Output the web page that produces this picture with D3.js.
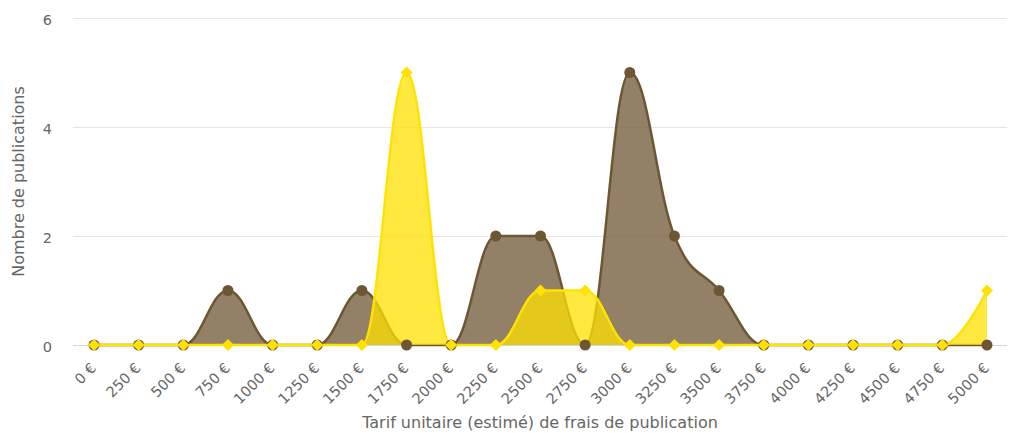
<!DOCTYPE html>
<html><head><meta charset="utf-8">
<script src="https://cdn.jsdelivr.net/npm/d3@7/dist/d3.min.js"></script>
<style>
html,body{margin:0;padding:0;background:#fff;}
svg{display:block;font-family:"DejaVu Sans",sans-serif;}
</style></head><body>
<svg id="chart" width="1009" height="433"></svg>
<script>
const categories = ["0 €","250 €","500 €","750 €","1000 €","1250 €","1500 €","1750 €","2000 €","2250 €","2500 €","2750 €","3000 €","3250 €","3500 €","3750 €","4000 €","4250 €","4500 €","4750 €","5000 €"];
const brownValues  = [0,0,0,1,0,0,1,0,0,2,2,0,5,2,1,0,0,0,0,0,0];
const yellowValues = [0,0,0,0,0,0,0,5,0,0,1,1,0,0,0,0,0,0,0,0,1];
const yTicks = [0,2,4,6];
const xTitle = "Tarif unitaire (estimé) de frais de publication";
const yTitle = "Nombre de publications";

const svg = d3.select("#chart");
const plot = {left:73, right:1007, top:18, bottom:345};

const x = d3.scalePoint().domain(categories).range([94, 987]);
const y = d3.scaleLinear().domain([0,6]).range([plot.bottom, plot.top]);

// gridlines
svg.append("g").selectAll("line").data(yTicks.filter(d=>d>0)).join("line")
  .attr("x1",plot.left).attr("x2",plot.right)
  .attr("y1",d=>y(d)+0.5).attr("y2",d=>y(d)+0.5)
  .attr("stroke","#e6e6e6").attr("stroke-width",1);

// y labels
svg.append("g").selectAll("text").data(yTicks).join("text")
  .attr("x",52).attr("y",d=>y(d)+7)
  .attr("text-anchor","end").attr("fill","#666").attr("font-size",14.5)
  .text(d=>d);

// axis line
svg.append("line").attr("x1",plot.left).attr("x2",plot.right)
  .attr("y1",plot.bottom+0.5).attr("y2",plot.bottom+0.5)
  .attr("stroke","#ccd6eb").attr("stroke-width",1);

// Highcharts-like spline
function splinePath(pts, closeToBase){
  const s = 1.5, den = s+1;
  const rc = [];
  let d = "";
  for(let i=0;i<pts.length;i++){
    const [px,py] = pts[i];
    if(i===0){ d += `M${px},${py}`; rc[i]=[px,py]; continue; }
    let lcx=px, lcy=py;
    if(i<pts.length-1){
      const [lx,ly]=pts[i-1], [nx,ny]=pts[i+1];
      lcx=(s*px+lx)/den; lcy=(s*py+ly)/den;
      let rcx=(s*px+nx)/den, rcy=(s*py+ny)/den;
      let corr=0;
      if(rcx!==lcx) corr=((rcy-lcy)*(rcx-px))/(rcx-lcx)+py-rcy;
      lcy+=corr; rcy+=corr;
      if(lcy>ly&&lcy>py){lcy=Math.max(ly,py);rcy=2*py-lcy;}
      else if(lcy<ly&&lcy<py){lcy=Math.min(ly,py);rcy=2*py-lcy;}
      if(rcy>ny&&rcy>py){rcy=Math.max(ny,py);lcy=2*py-rcy;}
      else if(rcy<ny&&rcy<py){rcy=Math.min(ny,py);lcy=2*py-rcy;}
      rc[i]=[rcx,rcy];
    } else rc[i]=[px,py];
    const [ax,ay]=rc[i-1];
    d += `C${ax},${ay} ${lcx},${lcy} ${px},${py}`;
  }
  if(closeToBase){
    d += `L${pts[pts.length-1][0]},${y(0)}L${pts[0][0]},${y(0)}Z`;
  }
  return d;
}

const series = [
  {values:brownValues, stroke:"#6d5634", fill:"#6d5634", marker:"circle"},
  {values:yellowValues, stroke:"#ffe200", fill:"#ffe200", marker:"diamond"}
];

series.forEach(sr=>{
  const pts = sr.values.map((v,i)=>[x(categories[i]), y(v)]);
  const g = svg.append("g");
  g.append("path").attr("d",splinePath(pts,true)).attr("fill",sr.fill).attr("fill-opacity",0.75);
  g.append("path").attr("d",splinePath(pts,false)).attr("fill","none").attr("stroke",sr.stroke).attr("stroke-width",2.5);
});

// markers on top
const brownG = svg.append("g");
brownG.selectAll("circle").data(brownValues).join("circle")
  .attr("cx",(d,i)=>x(categories[i])).attr("cy",d=>y(d)).attr("r",5.5)
  .attr("fill","#6d5634");
const yellowG = svg.append("g");
yellowG.selectAll("path").data(yellowValues).join("path")
  .attr("transform",(d,i)=>`translate(${x(categories[i])},${y(d)})`)
  .attr("d","M0,-6L6,0L0,6L-6,0Z")
  .attr("fill","#ffe200");

// x labels
svg.append("g").selectAll("text").data(categories).join("text")
  .attr("transform",d=>`translate(${x(d)+3},${plot.bottom+24}) rotate(-45)`)
  .attr("text-anchor","end").attr("fill","#666").attr("font-size",14.5)
  .text(d=>d);

// titles
svg.append("text").attr("x",(plot.left+plot.right)/2).attr("y",428)
  .attr("text-anchor","middle").attr("fill","#666").attr("font-size",16).text(xTitle);
svg.append("text").attr("transform",`translate(24,${(plot.top+plot.bottom)/2}) rotate(-90)`)
  .attr("text-anchor","middle").attr("fill","#666").attr("font-size",16).text(yTitle);
</script>
</body></html>
